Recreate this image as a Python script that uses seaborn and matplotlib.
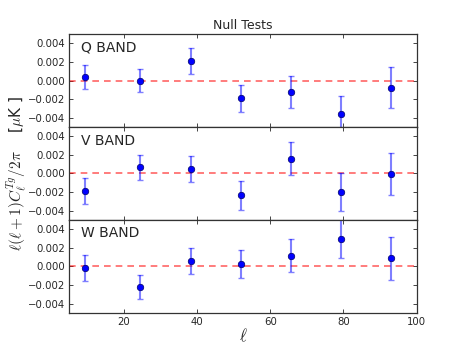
import numpy as np
import pandas as pd
import matplotlib
matplotlib.use("Agg")
import matplotlib.pyplot as plt
import seaborn as sns

# multipole bin centres
ell = [9.5, 24.4, 38.3, 52.0, 65.6, 79.3, 92.9]

bands = ["Q BAND", "V BAND", "W BAND"]

# cross power values per band
q_val = [0.00036, 0.0, 0.0021, -0.00192, -0.00121, -0.0036, -0.00079]
q_err = [0.0013, 0.00125, 0.00136, 0.00145, 0.0017, 0.0019, 0.0022]

v_val = [-0.00193, 0.00066, 0.00045, -0.00234, 0.00157, -0.00195, -0.00005]
v_err = [0.0014, 0.00137, 0.0014, 0.00155, 0.00178, 0.00205, 0.00228]

w_val = [-0.00017, -0.0022, 0.00057, 0.00029, 0.00115, 0.003, 0.00087]
w_err = [0.00136, 0.0013, 0.0014, 0.0015, 0.00175, 0.0021, 0.0023]

vals = [q_val, v_val, w_val]
errs = [q_err, v_err, w_err]

sns.set_style("ticks")
plt.rcParams['mathtext.fontset'] = 'cm'
plt.rcParams['font.family'] = ['DejaVu Sans']
plt.rcParams['xtick.direction'] = 'in'
plt.rcParams['ytick.direction'] = 'in'

fig, axes = plt.subplots(3, 1, figsize=(4.63, 3.48), dpi=100, sharex=True)
fig.subplots_adjust(left=0.149, right=0.9, top=0.902, bottom=0.101, hspace=0)

for ax, band, v, e in zip(axes, bands, vals, errs):
    df = pd.DataFrame({"ell": ell, "val": v, "err": e})
    ax.axhline(0, color='red', ls='--', lw=1.2, alpha=0.6, dashes=(4, 3), zorder=1)
    ax.errorbar(df["ell"], df["val"], yerr=df["err"], fmt='none',
                ecolor='blue', alpha=0.5, elinewidth=1.5, capsize=2.5,
                capthick=1, zorder=2)
    sns.scatterplot(data=df, x="ell", y="val", ax=ax, color='blue',
                    s=22, edgecolor='#000066', linewidth=0.5, zorder=3)
    ax.set_xlim(5, 100)
    ax.set_ylim(-0.005, 0.005)
    ax.set_yticks([-0.004, -0.002, 0.0, 0.002, 0.004])
    ax.set_yticklabels(["\u22120.004", "\u22120.002", "0.000", "0.002", "0.004"])
    ax.set_xticks([20, 40, 60, 80, 100])
    ax.tick_params(axis='both', labelsize=7.3, top=True, right=True,
                   length=3, width=0.6, pad=3)
    ax.set_xlabel("")
    ax.set_ylabel("")
    for sp in ax.spines.values():
        sp.set_color('#333333')
        sp.set_linewidth(0.9)
    ax.text(0.035, 0.93, band, transform=ax.transAxes, fontsize=10,
            va='top', ha='left')

axes[0].set_title("Null Tests", fontsize=9, pad=4)
axes[2].set_xlabel(r"$\ell$", fontsize=12, labelpad=0)
fig.text(0.035, 0.5, r"$\ell(\ell+1)C_\ell^{Tg}/2\pi$    [$\mu$K ]",
         rotation=90, va='center', ha='center', fontsize=11)

plt.savefig("out.png", dpi=100)
